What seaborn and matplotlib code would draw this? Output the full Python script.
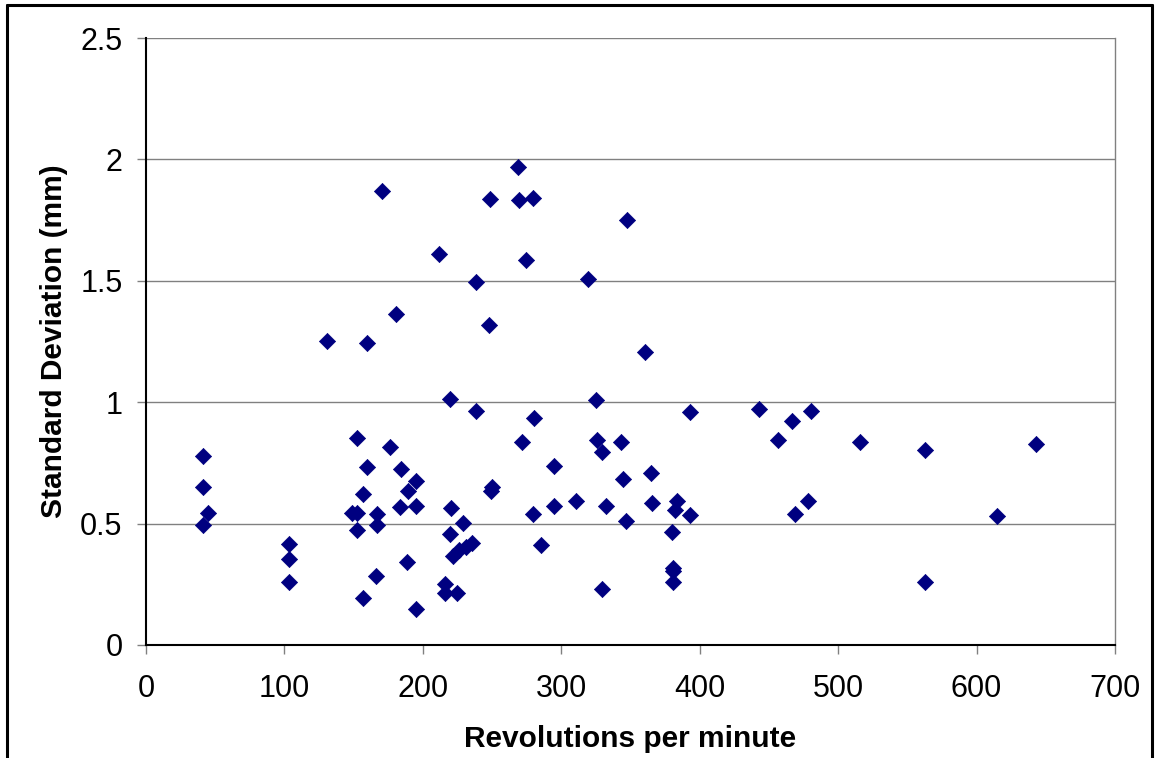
import matplotlib
matplotlib.use("Agg")
import matplotlib.pyplot as plt
import seaborn as sns
import pandas as pd
from matplotlib.lines import Line2D

rpm = [41.4, 41.4, 44.6, 41.4, 103.6, 103.6, 103.6,
       152.5, 176.3, 159.7, 184.2, 195.3, 189.5, 156.6, 183.8, 195.3,
       148.8, 152.7, 166.7, 166.7, 152.5, 188.4, 166.4, 156.6, 195.3,
       219.7, 238.2, 220.4, 229.3, 219.7, 235.3, 231.2, 226.4, 222.0,
       216.0, 216.0, 224.9,
       170.8, 211.7, 238.2, 180.4, 130.5, 159.7,
       268.8, 248.8, 269.5, 279.9, 347.5, 274.8, 319.6, 247.6, 360.5,
       324.8, 280.6, 393.3, 271.7, 325.6, 343.4, 329.5, 294.6, 364.6,
       344.7, 250.2, 249.3, 310.7, 383.4, 294.6, 332.4, 365.3, 382.4,
       279.6, 393.3, 346.6, 379.8, 285.6, 380.5, 380.5, 380.5, 329.5,
       442.6, 480.7, 466.5, 456.4, 515.6, 562.6, 642.8, 478.5, 468.6,
       614.6, 562.6]
std_dev = [0.778, 0.652, 0.545, 0.494, 0.415, 0.354, 0.261,
           0.851, 0.817, 0.732, 0.724, 0.677, 0.634, 0.622, 0.570, 0.572,
           0.542, 0.545, 0.538, 0.494, 0.474, 0.340, 0.286, 0.194, 0.148,
           1.012, 0.965, 0.563, 0.501, 0.457, 0.421, 0.405, 0.391, 0.368,
           0.250, 0.213, 0.213,
           1.870, 1.609, 1.496, 1.362, 1.253, 1.244,
           1.970, 1.838, 1.833, 1.843, 1.752, 1.585, 1.507, 1.318, 1.208,
           1.009, 0.936, 0.960, 0.835, 0.846, 0.837, 0.794, 0.739, 0.707,
           0.684, 0.652, 0.634, 0.594, 0.594, 0.572, 0.572, 0.584, 0.556,
           0.538, 0.535, 0.511, 0.465, 0.411, 0.318, 0.305, 0.258, 0.229,
           0.971, 0.962, 0.921, 0.843, 0.837, 0.802, 0.826, 0.594, 0.541,
           0.531, 0.259]

x_ticks = [0, 100, 200, 300, 400, 500, 600, 700]
y_ticks = [0, 0.5, 1, 1.5, 2, 2.5]
y_tick_labels = ["0", "0.5", "1", "1.5", "2", "2.5"]

df = pd.DataFrame({"rpm": rpm, "sd": std_dev})

sns.set_style("white")
plt.rcParams["font.family"] = ["Liberation Sans", "DejaVu Sans"]
plt.rcParams["text.color"] = "black"
plt.rcParams["axes.labelcolor"] = "black"
plt.rcParams["xtick.labelcolor"] = "black"
plt.rcParams["ytick.labelcolor"] = "black"

fig = plt.figure(figsize=(11.57, 7.58), dpi=100)
ax = fig.add_axes([146/1157, 1-645/758, (1115-146)/1157, (645-38)/758])

sns.scatterplot(data=df, x="rpm", y="sd", marker="D", s=68, color="#000080",
                edgecolor="#000080", linewidth=0.5, ax=ax, zorder=3)

ax.set_xlim(0, 700)
ax.set_ylim(0, 2.5)
ax.set_xticks(x_ticks)
ax.set_xticklabels([str(t) for t in x_ticks])
ax.set_yticks(y_ticks)
ax.set_yticklabels(y_tick_labels)
ax.yaxis.grid(True, color="#808080", linewidth=1.0, zorder=0)
ax.xaxis.grid(False)
ax.set_axisbelow(True)

for side in ["left", "bottom"]:
    ax.spines[side].set_color("black")
    ax.spines[side].set_linewidth(1.5)
ax.spines["top"].set_visible(False)
ax.spines["right"].set_color("#808080")
ax.spines["right"].set_linewidth(1.0)

ax.tick_params(axis="both", which="major", labelsize=22, length=6.5, width=1,
               color="#808080", direction="out", labelcolor="black")
ax.tick_params(axis="x", bottom=True, pad=14.5)
ax.tick_params(axis="y", left=True, pad=10.5)

ax.set_xlabel("Revolutions per minute", fontsize=21.5, fontweight="bold",
              labelpad=15, color="black")
ax.set_ylabel("Standard Deviation (mm)", fontsize=21.5, fontweight="bold",
              labelpad=8.5, color="black")

# figure frame (left, top, right)
fig.add_artist(Line2D([7/1157, 7/1157], [0, 1-5/758], transform=fig.transFigure,
                      color="black", linewidth=2.2))
fig.add_artist(Line2D([7/1157, 1152/1157], [1-5/758, 1-5/758], transform=fig.transFigure,
                      color="black", linewidth=2.2))
fig.add_artist(Line2D([1152/1157, 1152/1157], [0, 1-5/758], transform=fig.transFigure,
                      color="black", linewidth=2.2))

fig.savefig("out.png", dpi=100, facecolor="white")
